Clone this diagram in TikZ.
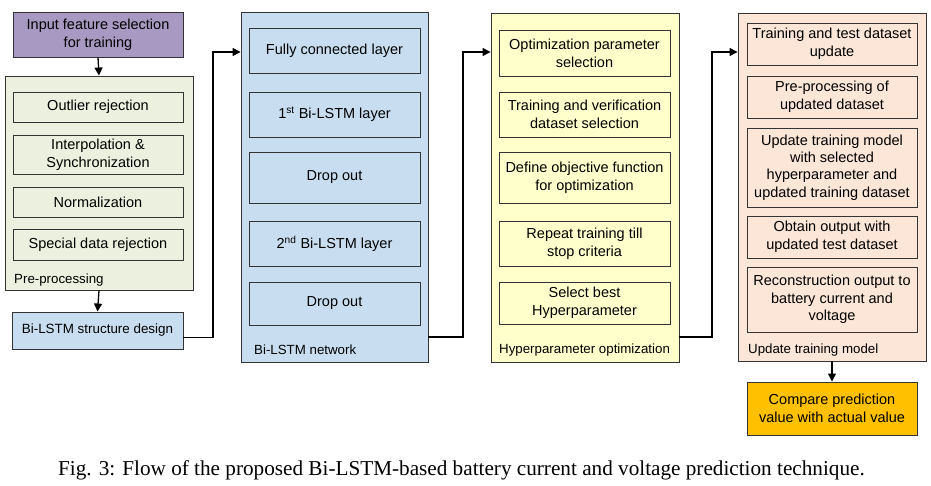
\documentclass[tikz,border=0pt]{standalone}
\usepackage{fontspec}
\setmainfont{Liberation Sans}
\newfontfamily\capfont{Liberation Serif}
\usetikzlibrary{arrows.meta}
\definecolor{cpurple}{HTML}{A899C2}
\definecolor{cgreen}{HTML}{EBF1DE}
\definecolor{cblue}{HTML}{C8DEF0}
\definecolor{cyellow}{HTML}{FFFFCC}
\definecolor{cpeach}{HTML}{FCE6D8}
\definecolor{corange}{HTML}{FFC000}
\definecolor{cedge}{HTML}{333333}
\tikzset{
  bx/.style={draw=cedge, line width=0.9pt, rectangle, inner sep=0pt, align=center,
    font=\fontsize{14.5}{18}\selectfont},
  grp/.style={draw=cedge, line width=0.9pt, rectangle, inner sep=0pt},
  grplabel/.style={anchor=west, inner sep=0pt, font=\fontsize{13.3}{15}\selectfont},
  arr/.style={-{Triangle[length=8pt,width=8pt]}, line width=1.3pt, black},
}
\begin{document}
\begin{tikzpicture}[x=1pt,y=-1pt]
\useasboundingbox (0,0) rectangle (931,486);
% column 1
\node[bx, fill=cpurple, minimum width=170, minimum height=45] (inp) at (98,34.5) {Input feature selection\\for training};
\node[grp, fill=cgreen, minimum width=188, minimum height=214] (pre) at (99,183) {};
\node[bx, fill=cgreen, minimum width=170, minimum height=30] (out) at (98,107) {Outlier rejection};
\node[bx, fill=cgreen, minimum width=170, minimum height=39] (itp) at (98,154.5) {Interpolation \&\\Synchronization};
\node[bx, fill=cgreen, minimum width=170, minimum height=30] (nrm) at (98,202) {Normalization};
\node[bx, fill=cgreen, minimum width=170, minimum height=31] (spc) at (98,244.5) {Special data rejection};
\node[grplabel] (prel) at (14,280) {Pre-processing};
\node[bx, fill=cblue, minimum width=171, minimum height=37, font=\fontsize{13.4}{16}\selectfont] (bis) at (97.5,330.5) {Bi-LSTM structure design};
% column 2
\node[grp, fill=cblue, minimum width=187, minimum height=350] (net) at (334.5,187) {};
\node[bx, fill=cblue, minimum width=171, minimum height=45] (fc) at (334.5,50.5) {Fully connected layer};
\node[bx, fill=cblue, minimum width=171, minimum height=45] (l1) at (334.5,114.5) {1\textsuperscript{st} Bi-LSTM layer};
\node[bx, fill=cblue, minimum width=171, minimum height=51] (d1) at (334.5,177.5) {Drop out};
\node[bx, fill=cblue, minimum width=171, minimum height=45] (l2) at (334.5,243.5) {2\textsuperscript{nd} Bi-LSTM layer};
\node[bx, fill=cblue, minimum width=171, minimum height=43] (d2) at (334.5,303.5) {Drop out};
\node[grplabel] (netl) at (254,350) {Bi-LSTM network};
% column 3
\node[grp, fill=cyellow, minimum width=188, minimum height=349] (hyp) at (585,187.5) {};
\node[bx, fill=cyellow, minimum width=171, minimum height=46] (h1) at (584.5,53) {Optimization parameter\\selection};
\node[bx, fill=cyellow, minimum width=171, minimum height=45] (h2) at (584.5,114.5) {Training and verification\\dataset selection};
\node[bx, fill=cyellow, minimum width=171, minimum height=51] (h3) at (584.5,177.5) {Define objective function\\for optimization};
\node[bx, fill=cyellow, minimum width=171, minimum height=45] (h4) at (584.5,243.5) {Repeat training till\\stop criteria};
\node[bx, fill=cyellow, minimum width=171, minimum height=42] (h5) at (584.5,303) {Select best\\Hyperparameter};
\node[grplabel] (hypl) at (499,350) {Hyperparameter optimization};
% column 4
\node[grp, fill=cpeach, minimum width=188, minimum height=348] (upd) at (832,187) {};
\node[bx, fill=cpeach, minimum width=170, minimum height=42] (u1) at (832,44) {Training and test dataset\\update};
\node[bx, fill=cpeach, minimum width=170, minimum height=42] (u2) at (832,97) {Pre-processing of\\updated dataset};
\node[bx, fill=cpeach, minimum width=170, minimum height=79, font=\fontsize{14.5}{17.3}\selectfont] (u3) at (832,167.5) {Update training model\\with selected\\hyperparameter and\\updated training dataset};
\node[bx, fill=cpeach, minimum width=170, minimum height=42] (u4) at (832,237) {Obtain output with\\updated test dataset};
\node[bx, fill=cpeach, minimum width=170, minimum height=65, font=\fontsize{14.5}{17.3}\selectfont] (u5) at (832,299.5) {Reconstruction output to\\battery current and\\voltage};
\node[grplabel] (updl) at (748,350) {Update training model};
\node[bx, fill=corange, minimum width=170, minimum height=53] (cmp) at (832,408.5) {Compare prediction\\value with actual value};
% caption
\node[font=\capfont\fontsize{21.2}{24}\selectfont, inner sep=0pt, anchor=base] (cap) at (461.5,475) {Fig. 3: Flow of the proposed Bi-LSTM-based battery current and voltage prediction technique.};
% connectors
\coordinate (c1) at (213,52);
\coordinate (c2) at (463,52);
\coordinate (c3) at (712,52);
\draw[arr] (inp.south) -- (pre.north);
\draw[arr] (pre.south) -- (bis.north);
\draw[arr] (upd.south) -- (cmp.north);
\draw[arr] ([yshift=-7pt]bis.east) -| (c1) -- (c1 -| net.west);
\draw[arr] ([yshift=-150pt]net.east) -| (c2) -- (c2 -| hyp.west);
\draw[arr] ([yshift=-149.5pt]hyp.east) -| (c3) -- (c3 -| upd.west);
\end{tikzpicture}
\end{document}
